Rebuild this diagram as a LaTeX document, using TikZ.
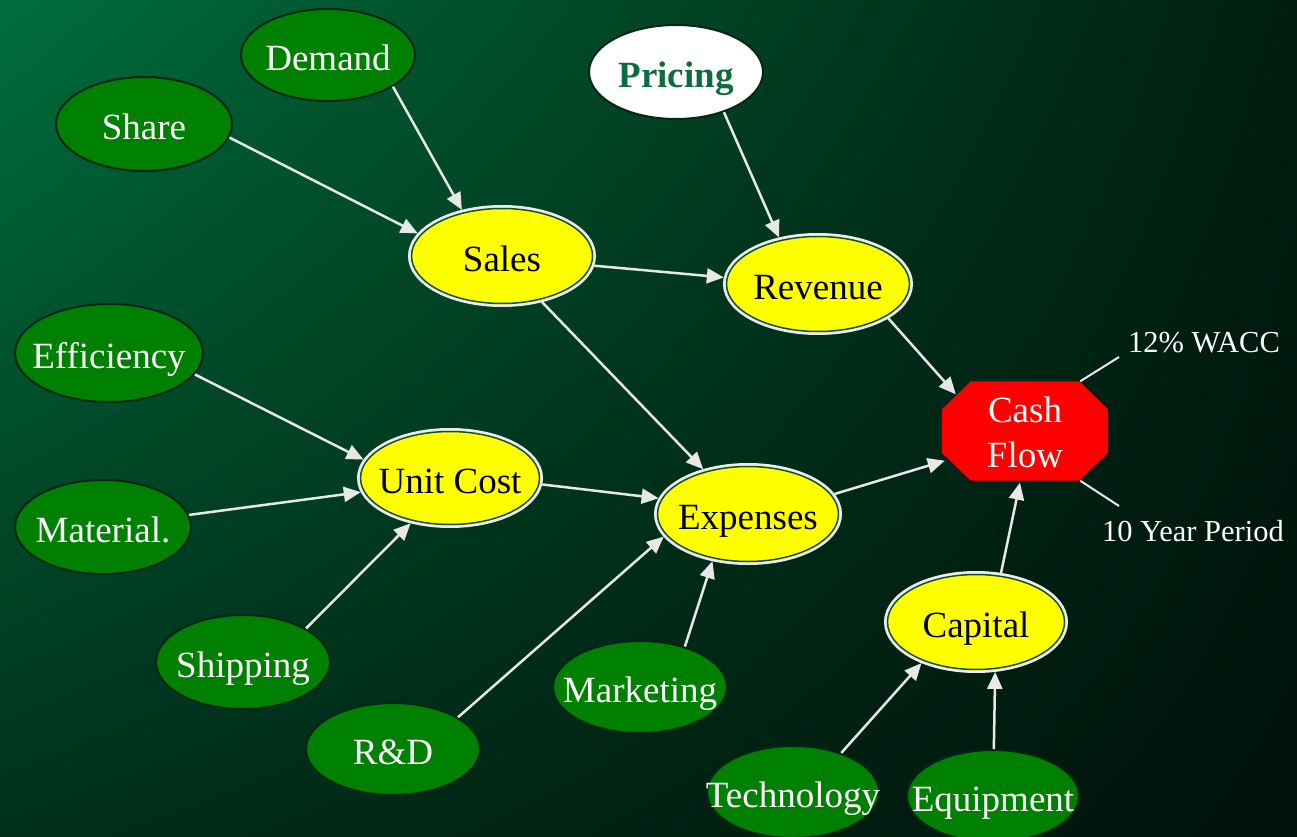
\documentclass[tikz,border=0pt]{standalone}
\usepackage{fontspec}
\setmainfont{Liberation Serif}
\usetikzlibrary{shapes.geometric,arrows.meta,shadings,calc}

\definecolor{bgA}{RGB}{0,110,60}
\definecolor{bgB}{RGB}{0,30,16}
\definecolor{bgC}{RGB}{0,48,27}
\definecolor{bgD}{RGB}{0,18,10}
\definecolor{nodegreen}{RGB}{0,128,0}
\definecolor{edgedark}{RGB}{0,38,20}
\definecolor{ringwhite}{RGB}{236,236,236}
\definecolor{ringdark}{RGB}{20,80,40}
\definecolor{linkgray}{RGB}{232,232,232}
\definecolor{pricegreen}{RGB}{12,108,58}
\definecolor{calcyellow}{RGB}{255,255,0}
\definecolor{flowred}{RGB}{255,0,0}

\tikzset{
  base/.style={font=\fontsize{37}{45}\selectfont, inner sep=0pt, outer sep=0pt,
               text height=31pt, text depth=0pt},
  driver/.style={base, ellipse, fill=nodegreen, draw=edgedark, line width=2pt,
                 text=white, outer sep=1pt},
  derived/.style={base, ellipse, fill=calcyellow, draw=ringdark, line width=1.5pt,
                  text=black, outer sep=3.5pt,
                  preaction={draw=ringwhite, line width=7pt}},
  link/.style={draw=linkgray, line width=2.5pt,
               -{Triangle[length=17pt,width=15pt]}},
  tick/.style={draw=linkgray, line width=2pt},
  note/.style={font=\fontsize{30.5}{36}\selectfont, text=white, inner sep=0pt, anchor=base}
}

\begin{document}
\begin{tikzpicture}[x=1pt,y=-1pt]
  % background
  \useasboundingbox (0,0) rectangle (1297,837);
  \shade[upper left=bgA, upper right=bgB, lower left=bgC, lower right=bgD]
    (0,0) rectangle (1297,837);

  % input drivers
  \node[driver, minimum width=174pt, minimum height=92pt] (demand) at (328,55) {\makebox[0pt]{Demand}};
  \node[driver, minimum width=176pt, minimum height=94pt] (share) at (144,124) {\makebox[0pt]{Share}};
  \node[driver, minimum width=188pt, minimum height=98pt] (efficiency) at (109,353) {\makebox[0pt]{Efficiency}};
  \node[driver, minimum width=176pt, minimum height=94pt] (material) at (103,527) {\makebox[0pt]{Material.}};
  \node[driver, minimum width=174pt, minimum height=94pt] (shipping) at (243,662) {\makebox[0pt]{Shipping}};
  \node[driver, minimum width=174pt, minimum height=92pt] (rd) at (393,749) {\makebox[0pt]{R\&D}};
  \node[driver, minimum width=174pt, minimum height=92pt] (marketing) at (640,687) {\makebox[0pt]{Marketing}};
  \node[driver, minimum width=172pt, minimum height=92pt] (technology) at (793,792) {\makebox[0pt]{Technology}};
  \node[driver, minimum width=172pt, minimum height=92pt] (equipment) at (993,796) {\makebox[0pt]{Equipment}};
  \node[driver, fill=white, text=pricegreen, font=\fontsize{37}{45}\selectfont\bfseries,
        minimum width=174pt, minimum height=94pt] (pricing) at (676,72) {\makebox[0pt]{Pricing}};

  % derived quantities
  \node[derived, minimum width=181pt, minimum height=95pt] (sales) at (502,256) {\makebox[0pt]{Sales}};
  \node[derived, minimum width=183pt, minimum height=95pt] (revenue) at (818,284) {\makebox[0pt]{Revenue}};
  \node[derived, minimum width=179pt, minimum height=93pt] (unitcost) at (450,478) {\makebox[0pt]{Unit Cost}};
  \node[derived, minimum width=181pt, minimum height=95pt] (expenses) at (748,514) {\makebox[0pt]{Expenses}};
  \node[derived, minimum width=177pt, minimum height=95pt] (capital) at (976,622) {\makebox[0pt]{Capital}};

  % result: octagon with cut corners
  \path node[rectangle, minimum width=166pt, minimum height=99pt, inner sep=0pt]
        (cashflow) at (1025,431) {};
  \fill[flowred] ($(cashflow.north west)+(29,0)$) -- ($(cashflow.north east)+(-29,0)$)
    -- ($(cashflow.north east)+(0,28)$) -- ($(cashflow.south east)+(0,-28)$)
    -- ($(cashflow.south east)+(-29,0)$) -- ($(cashflow.south west)+(29,0)$)
    -- ($(cashflow.south west)+(0,-28)$) -- ($(cashflow.north west)+(0,28)$) -- cycle;
  \node[text=white, align=center, inner sep=0pt, font=\fontsize{37}{45}\selectfont]
        (cashflowtext) at ($(cashflow.center)+(0,1.5)$) {Cash\\Flow};

  % annotations
  \node[note] (wacc) at (1204,352) {12\% WACC};
  \node[note] (period) at (1193,541) {10 Year Period};
  \coordinate (waccend) at (1119,357);
  \coordinate (periodend) at (1119,506);
  \draw[tick] ($(cashflow.north east)+(-28,0)$) -- (waccend);
  \draw[tick] ($(cashflow.south east)+(-28,0)$) -- (periodend);

  % influences
  \draw[link] (demand.-26) -- (sales.131);
  \draw[link] (share.-9) -- (sales.165);
  \draw[link] (pricing.-40) -- (revenue.130);
  \draw[link] (sales.-6) -- (revenue.176);
  \draw[link] (sales.-49) -- (expenses.135);
  \draw[link] (revenue.-26) -- ($(cashflow.north west)+(14,13)$);
  \draw[link] (efficiency.-14) -- (unitcost.168);
  \draw[link] (material.8) -- (unitcost.189);
  \draw[link] (shipping.28) -- (unitcost.-131);
  \draw[link] (unitcost.-4) -- (expenses.170);
  \draw[link] (rd.26) -- (expenses.-165);
  \draw[link] (marketing.42) -- (expenses.-127);
  \draw[link] (expenses.13) -- ($(cashflow.south west)+(3,-20)$);
  \draw[link] (capital.63) -- ($(cashflow.south)+(-5,2)$);
  \draw[link] (technology.39) -- (capital.-143);
  \draw[link] (equipment.89) -- (capital.-69);
\end{tikzpicture}
\end{document}
